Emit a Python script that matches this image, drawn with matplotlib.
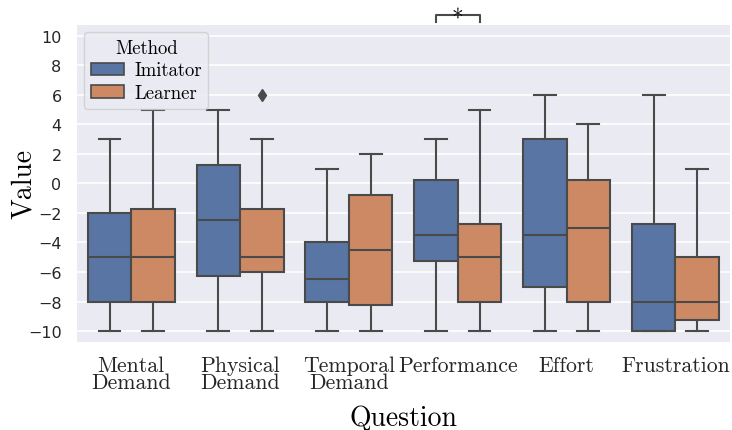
"""
NASA-TLX style box plot: Imitator vs Learner per question.
"""

import matplotlib
matplotlib.use("Agg")
import numpy as np
import matplotlib.pyplot as plt
from matplotlib.patches import Patch

# ── Data (box statistics) ────────────────────────────────────
questions = ["Mental\nDemand", "Physical\nDemand", "Temporal\nDemand",
             "Performance", "Effort", "Frustration"]
methods = ["Imitator", "Learner"]

# whisker low, Q1, median, Q3, whisker high
imitator_whislo = [-10, -10, -10, -10, -10, -10]
imitator_q1 = [-8, -6.25, -8, -5.25, -7, -10]
imitator_med = [-5, -2.5, -6.5, -3.5, -3.5, -8]
imitator_q3 = [-2, 1.25, -4, 0.25, 3, -2.75]
imitator_whishi = [3, 5, 1, 3, 6, 6]
imitator_fliers = [[], [], [], [], [], []]

learner_whislo = [-10, -10, -10, -10, -10, -10]
learner_q1 = [-8, -6, -8.25, -8, -8, -9.25]
learner_med = [-5, -5, -4.5, -5, -3, -8]
learner_q3 = [-1.75, -1.75, -0.75, -2.75, 0.25, -5]
learner_whishi = [5, 3, 2, 5, 4, 1]
learner_fliers = [[], [6], [], [], [], []]

# significant pair (question index) marked with a star
sig_question = 3

# ── Style ────────────────────────────────────────────────────
BG = "#EAEAF2"
LINE = "#4a4a4a"
COLORS = ["#5875A4", "#CC8963"]
SERIF = "cmr10"


def make_stats(whislo, q1, med, q3, whishi, fliers):
    return [dict(whislo=a, q1=b, med=c, q3=d, whishi=e, fliers=f)
            for a, b, c, d, e, f in zip(whislo, q1, med, q3, whishi, fliers)]


stats = [
    make_stats(imitator_whislo, imitator_q1, imitator_med, imitator_q3,
               imitator_whishi, imitator_fliers),
    make_stats(learner_whislo, learner_q1, learner_med, learner_q3,
               learner_whishi, learner_fliers),
]

fig = plt.figure(figsize=(7.32, 4.31), dpi=100)
ax = fig.add_axes([0.105, 0.204, 0.892, 0.736])
ax.set_facecolor(BG)
for s in ax.spines.values():
    s.set_visible(False)
ax.yaxis.grid(True, color="white", linewidth=1.2)
ax.set_axisbelow(True)

x = np.arange(len(questions))
width = 0.4
for i, (st, col) in enumerate(zip(stats, COLORS)):
    pos = x + (i - 0.5) * width
    ax.bxp(st, positions=pos, widths=width, patch_artist=True,
           boxprops=dict(facecolor=col, edgecolor=LINE, linewidth=1.5),
           medianprops=dict(color=LINE, linewidth=1.5),
           whiskerprops=dict(color=LINE, linewidth=1.5),
           capprops=dict(color=LINE, linewidth=1.5),
           capwidths=width / 2,
           flierprops=dict(marker="d", markerfacecolor=LINE,
                           markeredgecolor=LINE, markersize=6),
           manage_ticks=False, zorder=2)

ax.set_xlim(-0.5, len(questions) - 0.5)
ax.set_ylim(-10.75, 10.75)
ax.set_yticks(np.arange(-10, 11, 2))
ax.set_xticks(x)
ax.set_xticklabels(questions, fontfamily=SERIF, fontsize=15.7, linespacing=0.78)
ax.tick_params(axis="both", length=0, colors="#262626")
ax.tick_params(axis="y", labelsize=11.5, pad=11)
ax.tick_params(axis="x", pad=10)

ax.set_xlabel("Question", fontfamily=SERIF, fontsize=20, labelpad=9)
ax.set_ylabel("Value", fontfamily=SERIF, fontsize=20)
ax.yaxis.set_label_coords(-0.061, 0.5)

# significance bracket above the axes
x0, x1 = sig_question - width / 2, sig_question + width / 2
yb, yt = 10.95, 11.42
ax.plot([x0, x0, x1, x1], [yb, yt, yt, yb], color=LINE, linewidth=1.5,
        clip_on=False)
ax.text(sig_question, 10.68, "*", ha="center", va="baseline",
        fontfamily=SERIF, fontsize=17, color="#111111")

handles = [Patch(facecolor=c, edgecolor=LINE, linewidth=1.2, label=m)
           for c, m in zip(COLORS, methods)]
leg = ax.legend(handles=handles, title="Method", loc="upper left",
                prop=dict(family=SERIF, size=13.5),
                title_fontproperties=dict(family=SERIF, size=13.5),
                frameon=True, facecolor=BG, edgecolor="#cccccc",
                handlelength=1.75, handleheight=0.65, borderaxespad=0.4,
                labelspacing=0.25, handletextpad=0.55, borderpad=0.35)
leg.get_frame().set_alpha(0.8)

fig.savefig("out.png", dpi=100)
